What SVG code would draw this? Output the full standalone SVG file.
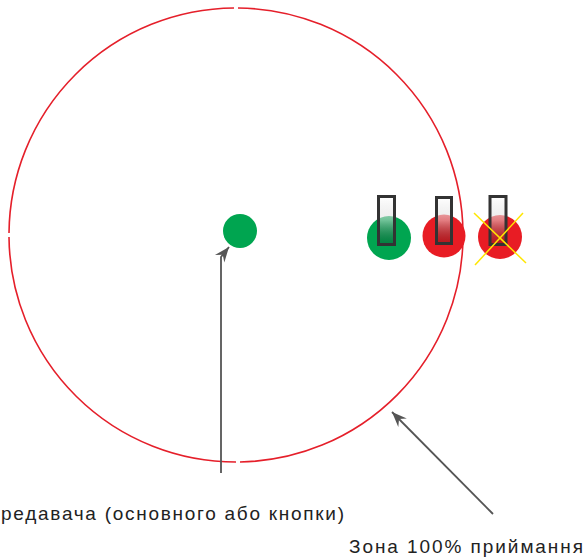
<svg xmlns="http://www.w3.org/2000/svg" width="586" height="560" viewBox="0 0 586 560">
<style>
.zone{fill:none;stroke:#e51f2a;stroke-width:1.6}
.lead{fill:none;stroke:#555;stroke-width:1.8}
.lbl{font-family:"Liberation Sans",Arial,sans-serif;font-size:19px;fill:#222}
.tag{stroke:#333;stroke-width:3}
</style>
<defs>
<marker id="ah" markerUnits="userSpaceOnUse" markerWidth="20" markerHeight="16" viewBox="-16 -8 20 16" refX="0" refY="0" orient="auto">
<path d="M0,0 L-15,-6 L-10,0 L-15,6 z" fill="#555"/>
</marker>
<linearGradient id="tg" x1="0" y1="0" x2="0" y2="1">
<stop offset="0" stop-color="#fff" stop-opacity="0.9"/>
<stop offset="0.5" stop-color="#ddd" stop-opacity="0.5"/>
<stop offset="1" stop-color="#000" stop-opacity="0.2"/>
</linearGradient>
</defs>
<rect width="586" height="560" fill="#fff"/>
<g id="zone">
<path class="zone" d="M238,8 A227,227 0 0 1 463,233"/>
<path class="zone" d="M463,237 A227,227 0 0 1 240,462"/>
<path class="zone" d="M236,462 A227,227 0 0 1 9,237"/>
<path class="zone" d="M9,233 A227,227 0 0 1 234,8"/>
</g>
<g id="transmitter">
<circle cx="240" cy="231" r="17" fill="#00a550"/>
</g>
<g id="receiver-ok">
<circle cx="389" cy="238" r="22" fill="#00a550"/>
<rect class="tag" x="378.5" y="196.5" width="16" height="48" fill="url(#tg)"/>
</g>
<g id="receiver-edge">
<circle cx="444" cy="236" r="21.5" fill="#e81c24"/>
<rect class="tag" x="436.5" y="197.5" width="15" height="46" fill="url(#tg)"/>
</g>
<g id="receiver-out">
<circle cx="500" cy="237" r="22" fill="#e81c24"/>
<rect class="tag" x="490" y="196.5" width="16" height="48" fill="url(#tg)"/>
<line x1="474" y1="213" x2="526" y2="263" stroke="#ffe600" stroke-width="1.5"/>
<line x1="523" y1="213" x2="475" y2="265" stroke="#ffe600" stroke-width="1.5"/>
</g>
<g id="connectors">
<path class="lead" d="M221,473 L221,257 L229,247" marker-end="url(#ah)"/>
<line class="lead" x1="493" y1="514" x2="392" y2="412" marker-end="url(#ah)"/>
</g>
<g id="labels">
<text class="lbl" x="1" y="520" textLength="343" lengthAdjust="spacing">редавача (основного або кнопки)</text>
<text class="lbl" x="349" y="553" textLength="234" lengthAdjust="spacing">Зона 100% приймання</text>
</g>
</svg>
